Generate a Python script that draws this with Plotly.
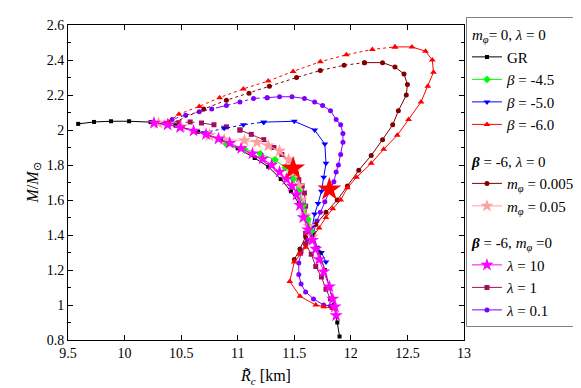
import plotly.graph_objects as go

# ============================================================
# Data  (R in km, M in solar masses)
# "_u" = unstable (dotted) part, "_s" = stable (solid) part
# ============================================================
gr_r = [9.59, 9.73, 9.88, 10.04, 10.23, 10.45, 10.65, 10.85, 11.0, 11.15, 11.27,
        11.38, 11.47, 11.54, 11.6, 11.66, 11.72, 11.77, 11.81, 11.85, 11.88, 11.9]
gr_m = [2.035, 2.046, 2.05, 2.05, 2.045, 2.025, 1.99, 1.945, 1.895, 1.84, 1.79,
        1.72, 1.65, 1.58, 1.5, 1.4, 1.3, 1.2, 1.1, 1.0, 0.9, 0.82]

b45_r = [10.9, 11.06, 11.2, 11.33, 11.42, 11.49, 11.54, 11.58, 11.62, 11.65]
b45_m = [1.92, 1.89, 1.865, 1.83, 1.785, 1.72, 1.65, 1.57, 1.49, 1.42]

b50_u_r = [10.7, 10.88, 11.05, 11.23]
b50_u_m = [1.985, 2.01, 2.03, 2.045]
b50_s_r = [11.23, 11.5, 11.68, 11.77, 11.78, 11.76, 11.74, 11.71, 11.68, 11.66,
           11.67, 11.7, 11.74, 11.78]
b50_s_m = [2.045, 2.05, 2.0, 1.92, 1.81, 1.73, 1.65, 1.58, 1.52, 1.45,
           1.39, 1.33, 1.3, 1.245]

b60_u_r = [10.39, 10.48, 10.66, 10.84, 11.05, 11.27, 11.49, 11.73, 11.96, 12.19, 12.39]
b60_u_m = [2.046, 2.09, 2.135, 2.185, 2.235, 2.28, 2.335, 2.39, 2.43, 2.46, 2.475]
b60_s_r = [12.39, 12.54, 12.66, 12.72, 12.73, 12.68, 12.62, 12.51, 12.41, 12.29,
           12.18, 12.05, 11.97, 11.91, 11.84, 11.78, 11.72, 11.66, 11.6, 11.55,
           11.5, 11.46, 11.55, 11.69, 11.76, 11.84]
b60_s_m = [2.475, 2.475, 2.45, 2.4, 2.33, 2.25, 2.16, 2.06, 1.97, 1.89,
           1.81, 1.73, 1.67, 1.6, 1.55, 1.5, 1.44, 1.385, 1.33, 1.29,
           1.245, 1.135, 1.05, 1.0, 0.99, 0.98]

m005_u_r = [10.39, 10.7, 10.9, 11.1, 11.28, 11.52, 11.73, 11.94, 12.12]
m005_u_m = [2.03, 2.12, 2.17, 2.21, 2.25, 2.3, 2.34, 2.37, 2.385]
m005_s_r = [12.12, 12.28, 12.39, 12.47, 12.5, 12.49, 12.42, 12.37, 12.28, 12.18,
            12.07, 11.97, 11.88, 11.78, 11.69, 11.6, 11.55, 11.5]
m005_s_m = [2.385, 2.385, 2.36, 2.32, 2.26, 2.2, 2.11, 2.03, 1.945, 1.855,
            1.77, 1.68, 1.6, 1.53, 1.46, 1.39, 1.32, 1.26]

m05_u_r = [10.3, 10.5, 10.75]
m05_u_m = [2.04, 2.02, 1.97]
m05_s_r = [10.75, 10.88, 11.06, 11.17, 11.27, 11.37, 11.45, 11.5, 11.54, 11.56,
           11.6, 11.63, 11.66]
m05_s_m = [1.97, 1.945, 1.94, 1.93, 1.91, 1.88, 1.83, 1.76, 1.68, 1.6,
           1.51, 1.45, 1.39]

l10_r = [10.26, 10.38, 10.49, 10.61, 10.72, 10.83, 10.93, 11.03, 11.13, 11.22,
         11.3, 11.37, 11.43, 11.48, 11.52, 11.55, 11.58, 11.62, 11.66, 11.69,
         11.72, 11.76, 11.81, 11.84, 11.86, 11.87]
l10_m = [2.04, 2.03, 2.015, 1.995, 1.975, 1.95, 1.925, 1.895, 1.865, 1.835,
         1.8, 1.76, 1.72, 1.68, 1.63, 1.57, 1.5, 1.43, 1.37, 1.32,
         1.26, 1.19, 1.105, 1.035, 0.99, 0.94]

l1_u_r = [10.38, 10.48, 10.58, 10.68, 10.79, 10.9, 11.02]
l1_u_m = [2.035, 2.042, 2.046, 2.04, 2.03, 2.018, 2.0]
l1_s_r = [11.02, 11.12, 11.23, 11.32, 11.39, 11.45, 11.49, 11.52, 11.54, 11.57,
          11.59, 11.6, 11.62, 11.6, 11.6, 11.65, 11.69, 11.74, 11.78, 11.82]
l1_s_m = [2.0, 1.975, 1.945, 1.9, 1.86, 1.825, 1.79, 1.75, 1.716, 1.68,
          1.64, 1.565, 1.48, 1.41, 1.35, 1.29, 1.22, 1.16, 1.09, 1.035]

l01_u_r = [10.35, 10.42, 10.54, 10.66, 10.77, 10.9, 11.02, 11.14, 11.26]
l01_u_m = [2.04, 2.06, 2.085, 2.105, 2.12, 2.14, 2.16, 2.18, 2.185]
l01_s_r = [11.26, 11.37, 11.48, 11.59, 11.68, 11.75, 11.82, 11.87, 11.91, 11.93,
           11.93, 11.91, 11.89, 11.87, 11.85, 11.81, 11.77, 11.73, 11.7, 11.67,
           11.62, 11.56, 11.54, 11.54, 11.56, 11.6, 11.67, 11.76, 11.82]
l01_s_m = [2.185, 2.19, 2.19, 2.18, 2.16, 2.14, 2.11, 2.06, 2.03, 1.98,
           1.93, 1.86, 1.8, 1.76, 1.705, 1.65, 1.59, 1.53, 1.48, 1.415,
           1.37, 1.3, 1.24, 1.175, 1.12, 1.075, 1.035, 1.0, 0.995]

# the two big red stars
star_r = [11.49, 11.81]
star_m = [1.78, 1.66]

# ============================================================
# Figure
# ============================================================
FONT = "Times New Roman, Liberation Serif, Tinos, serif"
fig = go.Figure()


def add_series(name, group, color, symbol, msize, xs, ys, xu=None, yu=None, dash="dot"):
    if xu is not None:
        fig.add_trace(go.Scatter(x=xu, y=yu, mode="lines+markers", showlegend=False,
                                 legendgroup=group,
                                 line=dict(color=color, width=1, dash=dash),
                                 marker=dict(color=color, symbol=symbol, size=msize)))
    fig.add_trace(go.Scatter(x=xs, y=ys, mode="lines+markers", name=name,
                             legendgroup=group,
                             line=dict(color=color, width=1),
                             marker=dict(color=color, symbol=symbol, size=msize)))


g1 = "<i>m</i><sub><i>φ</i></sub>= 0, <i>λ</i> = 0"
g2 = "<b><i>β</i></b> = -6, <i>λ</i> = 0"
g3 = "<b><i>β</i></b> = -6, <i>m</i><sub><i>φ</i></sub> =0"

# draw order: background curves first
add_series("<i>λ</i> = 0.1", "g3", "#8000FF", "circle", 5, l01_s_r, l01_s_m, l01_u_r, l01_u_m, "dashdot")
add_series("<i>λ</i> = 1", "g3", "#A0105A", "square", 5, l1_s_r, l1_s_m, l1_u_r, l1_u_m, "dash")
add_series("<i>m</i><sub><i>φ</i></sub> = 0.005", "g2", "#800000", "circle", 5,
           m005_s_r, m005_s_m, m005_u_r, m005_u_m, "dot")
add_series("<i>β</i> = -6.0", "g1", "#FF0000", "triangle-up", 6, b60_s_r, b60_s_m, b60_u_r, b60_u_m, "dot")
add_series("<i>β</i> = -5.0", "g1", "#0000FF", "triangle-down", 6, b50_s_r, b50_s_m, b50_u_r, b50_u_m, "dashdot")
add_series("<i>m</i><sub><i>φ</i></sub> = 0.05", "g2", "#FFA0A0", "star", 10,
           m05_s_r, m05_s_m, m05_u_r, m05_u_m, "dash")
add_series("GR", "g1", "#000000", "square", 4, gr_r, gr_m)
add_series("<i>β</i> = -4.5", "g1", "#00FF00", "diamond", 6, b45_r, b45_m)
add_series("<i>λ</i> = 10", "g3", "#FF00FF", "star", 10, l10_r, l10_m)

fig.add_trace(go.Scatter(x=star_r, y=star_m, mode="markers", showlegend=False,
                         marker=dict(color="#FF0000", symbol="star", size=18)))

# legend group titles and order
order = {"g1": 1, "g2": 2, "g3": 3}
titles = {"g1": g1, "g2": g2, "g3": g3}
rank_in = {"GR": 1, "<i>β</i> = -4.5": 2, "<i>β</i> = -5.0": 3, "<i>β</i> = -6.0": 4,
           "<i>m</i><sub><i>φ</i></sub> = 0.005": 1, "<i>m</i><sub><i>φ</i></sub> = 0.05": 2,
           "<i>λ</i> = 10": 1, "<i>λ</i> = 1": 2, "<i>λ</i> = 0.1": 3}
for tr in fig.data:
    if tr.name in rank_in:
        tr.legendrank = order[tr.legendgroup] * 10 + rank_in[tr.name]
        tr.legendgrouptitle = dict(text=titles[tr.legendgroup])

axis_common = dict(showline=True, linecolor="black", linewidth=1, mirror="allticks",
                   ticks="inside", ticklen=5, tickcolor="black", showgrid=False,
                   zeroline=False, tickfont=dict(family=FONT, size=14, color="black"))

fig.update_xaxes(range=[9.5, 13], dtick=0.5, tick0=9.5,
                 title=dict(text="<i>R̃</i><sub><i>c</i></sub> [km]", standoff=10,
                            font=dict(family=FONT, size=16, color="black")),
                 **axis_common)
fig.update_yaxes(range=[0.8, 2.6], dtick=0.2, tick0=0.8,
                 minor=dict(dtick=0.1, ticks="inside", ticklen=3, tickcolor="black"),
                 title=dict(text="<i>M</i>/<i>M</i><sub>⊙</sub>", standoff=4,
                            font=dict(family=FONT, size=16, color="black")),
                 **axis_common)

fig.update_layout(
    width=581, height=388,
    margin=dict(l=60, r=124, t=9, b=56),
    plot_bgcolor="white", paper_bgcolor="white",
    font=dict(family=FONT, size=14, color="black"),
    legend=dict(x=1.005, y=1.025, xanchor="left", yanchor="top",
                bordercolor="#808080", borderwidth=1, bgcolor="white",
                font=dict(family=FONT, size=15), tracegroupgap=14,
                grouptitlefont=dict(family=FONT, size=15),
                itemwidth=30, traceorder="grouped", maxheight=386),
)

fig.write_html("out.html")
